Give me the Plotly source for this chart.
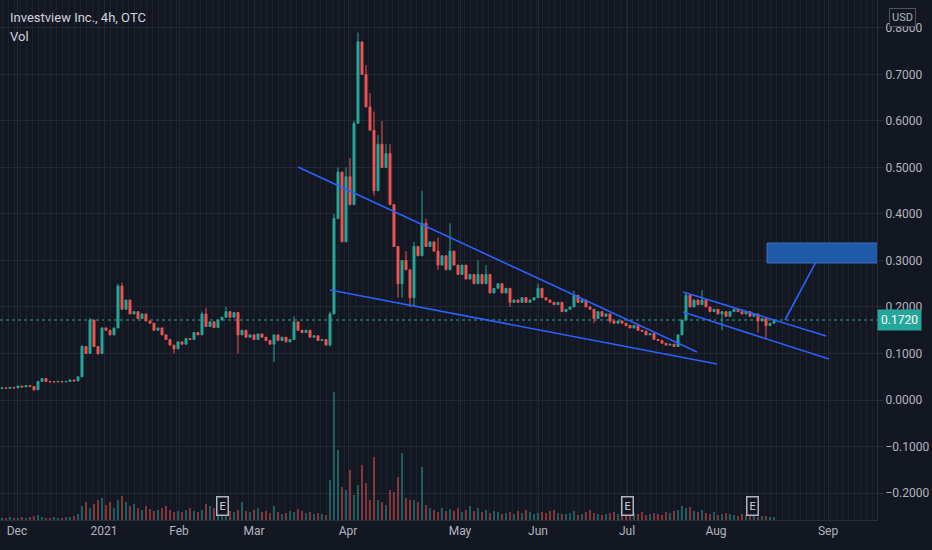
import plotly.graph_objects as go

# ---------------- data (4h bars) ----------------
closes = [
    0.026, 0.025, 0.027, 0.026, 0.030, 0.028, 0.031, 0.029, 0.022, 0.040,
    0.046, 0.040, 0.039, 0.039, 0.040, 0.039, 0.040, 0.043, 0.041, 0.050,
    0.115, 0.100, 0.172, 0.115, 0.100, 0.155, 0.150, 0.140, 0.155, 0.245,
    0.195, 0.215, 0.185, 0.190, 0.175, 0.185, 0.170, 0.165, 0.150, 0.155,
    0.140, 0.130, 0.118,
    0.110, 0.125, 0.120, 0.132, 0.130, 0.145, 0.140, 0.185, 0.158, 0.168,
    0.156, 0.172, 0.178, 0.190, 0.178, 0.188, 0.140, 0.150, 0.135, 0.140,
    0.130, 0.142, 0.135, 0.128, 0.120, 0.140, 0.128, 0.135, 0.125, 0.130,
    0.168, 0.150, 0.145, 0.150, 0.135, 0.138, 0.128, 0.130, 0.118,
    0.185, 0.390, 0.490, 0.340, 0.480, 0.420, 0.595, 0.770, 0.700, 0.630,
    0.580, 0.450, 0.550, 0.500, 0.530, 0.420, 0.330, 0.250, 0.300, 0.280,
    0.220, 0.330, 0.310, 0.380, 0.330, 0.340, 0.320, 0.290, 0.310, 0.280,
    0.320,
    0.290, 0.270, 0.290, 0.260, 0.270, 0.250, 0.270, 0.250, 0.270, 0.230,
    0.240, 0.250, 0.230, 0.240, 0.210,
    0.215, 0.210, 0.220, 0.210, 0.215, 0.220, 0.240, 0.220, 0.215, 0.210,
    0.205, 0.210, 0.190, 0.195, 0.200,
    0.225, 0.210, 0.215, 0.200, 0.195, 0.175, 0.190, 0.180, 0.185, 0.170,
    0.165, 0.170, 0.165, 0.160, 0.155, 0.160, 0.150, 0.148, 0.140, 0.143,
    0.130, 0.128, 0.122, 0.118, 0.120, 0.115,
    0.140, 0.172, 0.225, 0.200, 0.215, 0.205, 0.215, 0.200, 0.190, 0.195,
    0.185, 0.190, 0.180, 0.190, 0.195, 0.190, 0.185, 0.190, 0.180, 0.185,
    0.170, 0.175, 0.160, 0.165, 0.172,
]
first_open = 0.025

# wick extremes that reach beyond the candle body (bar index -> price)
high_marks = {10: 0.047, 20: 0.118, 22: 0.176, 29: 0.250, 30: 0.252, 50: 0.190,
              51: 0.198, 56: 0.200, 73: 0.180, 82: 0.190, 83: 0.400, 84: 0.500,
              85: 0.480, 86: 0.500, 87: 0.520, 88: 0.600, 89: 0.790, 90: 0.760,
              91: 0.720, 92: 0.660, 93: 0.620, 94: 0.570, 95: 0.600, 96: 0.550,
              97: 0.550, 101: 0.320, 103: 0.340, 105: 0.450, 106: 0.390,
              109: 0.350, 112: 0.380, 119: 0.300, 121: 0.290, 134: 0.250,
              143: 0.235, 171: 0.232, 175: 0.236}
low_marks = {8: 0.020, 24: 0.097, 43: 0.100, 59: 0.100, 68: 0.082, 82: 0.115,
             93: 0.440, 99: 0.220, 100: 0.220, 102: 0.200, 103: 0.200,
             109: 0.280, 127: 0.200, 148: 0.165, 152: 0.165, 169: 0.120,
             180: 0.150, 189: 0.145, 191: 0.130}

volumes = [  # millions of shares
    2, 2, 3, 2, 2, 3, 2, 3, 4, 5, 3, 2, 2, 3, 2, 2, 3, 3, 4, 6,
    14, 18, 12, 16, 20, 22, 15, 18, 12, 20, 24, 18, 14, 16, 12, 10, 14, 11, 9, 10, 12, 14, 10,
    8, 9, 8, 10, 12, 9, 8, 10, 16, 14, 12, 8, 10, 12, 9, 8, 10, 18, 9, 8,
    10, 12, 8, 9, 7, 14, 8, 6, 7, 9, 8, 11, 9, 7, 8, 6, 7, 6, 5,
    40, 128, 70, 33, 30, 50, 25, 35, 55, 37, 20, 63, 20, 18, 15, 30, 28, 43, 67, 22,
    20, 20, 18, 53, 15, 12, 10, 8, 12, 9, 11,
    9, 12, 8, 10, 14, 9, 12, 8, 10, 7, 9, 8, 6, 7, 8, 6, 9, 7, 10, 8, 6, 7, 8, 7, 9, 10, 7, 6,
    6, 7, 9, 5, 6, 8, 10, 7, 6, 5, 6, 7, 8, 6, 5, 6, 9, 7, 6, 8, 5, 6, 7, 6, 5, 8, 7, 9,
    10, 14, 12, 13, 9, 8, 10, 7, 6, 8, 5, 6, 7, 6, 5, 4, 6, 5, 4, 5, 3, 4, 4, 3, 3,
]

month_labels = ["Dec", "2021", "Feb", "Mar", "Apr", "May", "Jun", "Jul", "Aug", "Sep"]
month_pos = [3.75, 25.5, 44.25, 63, 86.5, 114.5, 134, 156.25, 178.5, 206.5]  # bar index
price_ticks = [-0.2, -0.1, 0.0, 0.1, 0.2, 0.3, 0.4, 0.5, 0.6, 0.7, 0.8]
earnings_pos = [55, 156.25, 187.5]
last_price = 0.172

# drawings: (x0 bar, y0 price, x1 bar, y1 price)
trend_lines = [
    (74.0, 0.501, 173.75, 0.103),
    (82.0, 0.2366, 178.75, 0.0774),
    (170.25, 0.2323, 206.0, 0.1376),
    (170.25, 0.189, 206.75, 0.088),
    (195.75, 0.172, 204.0, 0.305),
]
target_box = (191.25, 0.2946, 219.0, 0.3376)

# ---------------- derived candle series ----------------
n = len(closes)
idx = list(range(n))
opens = [first_open] + closes[:-1]
highs = [high_marks.get(i, max(opens[i], closes[i])) for i in idx]
lows = [low_marks.get(i, min(opens[i], closes[i])) for i in idx]

UP = "#26a69a"
DOWN = "#ef5350"
vol_colors = ["rgba(38,166,154,0.5)" if closes[i] >= opens[i] else "rgba(239,83,80,0.5)" for i in idx]

BG = "#131722"
GRID = "#242833"
TXT = "#b2b5be"
FONT = "Roboto, Arial, sans-serif"

fig = go.Figure()
fig.add_trace(go.Bar(x=idx, y=volumes, marker=dict(color=vol_colors, line=dict(width=0)),
                     width=0.55, yaxis="y2", showlegend=False, hoverinfo="skip"))
fig.add_trace(go.Candlestick(
    x=idx, open=opens, high=highs, low=lows, close=closes,
    increasing=dict(line=dict(color=UP, width=1), fillcolor=UP),
    decreasing=dict(line=dict(color=DOWN, width=1), fillcolor=DOWN),
    whiskerwidth=0, showlegend=False))

shapes = []
shapes.append(dict(type="line", xref="paper", x0=0, x1=1, yref="y", y0=last_price, y1=last_price,
                   line=dict(color=UP, width=1, dash="dot"), layer="below"))
for (x0, y0, x1, y1) in trend_lines:
    shapes.append(dict(type="line", xref="x", yref="y", x0=x0, y0=y0, x1=x1, y1=y1,
                       line=dict(color="#2962ff", width=1.6)))
bx0, by0, bx1, by1 = target_box
shapes.append(dict(type="rect", xref="x", yref="y", x0=bx0, y0=by0, x1=bx1, y1=by1,
                   fillcolor="#1e5aa8", line=dict(color="#3a74c4", width=1)))

annotations = [
    dict(xref="paper", yref="paper", x=0.009, y=0.967, xanchor="left", yanchor="middle",
         text="Investview Inc., 4h, OTC", showarrow=False, font=dict(size=13, color="#d1d4dc", family=FONT)),
    dict(xref="paper", yref="paper", x=0.009, y=0.929, xanchor="left", yanchor="middle",
         text="Vol", showarrow=False, font=dict(size=13, color="#d1d4dc", family=FONT)),
    dict(xref="paper", yref="y", x=1.0, y=last_price, xanchor="left", yanchor="middle",
         text="0.1720", showarrow=False, bgcolor=UP, borderpad=3,
         font=dict(size=12, color="#ffffff", family=FONT)),
    dict(xref="paper", yref="paper", x=1.0296, y=0.967, xanchor="center", yanchor="middle",
         text="USD", showarrow=False, bgcolor=BG, bordercolor="#50535e", borderwidth=1, borderpad=2,
         font=dict(size=11, color=TXT, family=FONT)),
]
for ex in earnings_pos:
    annotations.append(dict(xref="x", yref="paper", x=ex, y=0.027, xanchor="center", yanchor="middle",
                            text="E", showarrow=False, bgcolor=BG, bordercolor="#b2b5be",
                            borderwidth=1.5, borderpad=2, font=dict(size=11, color="#d1d4dc", family=FONT)))

fig.update_layout(
    width=932, height=550,
    margin=dict(l=0, r=55, t=0, b=30),
    paper_bgcolor=BG, plot_bgcolor=BG,
    font=dict(family=FONT, color=TXT, size=12),
    showlegend=False,
    bargap=0,
    shapes=shapes,
    annotations=annotations,
    xaxis=dict(range=[-0.5, 218.75], tickmode="array", tickvals=month_pos, ticktext=month_labels,
               showgrid=True, gridcolor=GRID, zeroline=False, rangeslider=dict(visible=False),
               showline=True, linecolor="#2a2e39", ticks="", tickfont=dict(size=12, color=TXT),
               minor=dict(tickmode="linear", tick0=0, dtick=1.5, showgrid=True,
                          gridcolor="rgba(120,123,134,0.10)", gridwidth=1)),
    yaxis=dict(range=[-0.258, 0.860], side="right", tickmode="array", tickvals=price_ticks,
               ticktext=["%.4f" % v if v >= 0 else "\u2212%.4f" % abs(v) for v in price_ticks],
               showgrid=True, gridcolor=GRID, zeroline=False, showline=True, linecolor="#2a2e39",
               ticks="outside", ticklen=5, tickcolor="#2a2e39", tickfont=dict(size=12, color=TXT)),
    yaxis2=dict(range=[0, 520], overlaying="y", visible=False, fixedrange=True),
)

fig.write_html("out.html", config={"displayModeBar": False},
               post_script="document.body.style.margin='0';")
